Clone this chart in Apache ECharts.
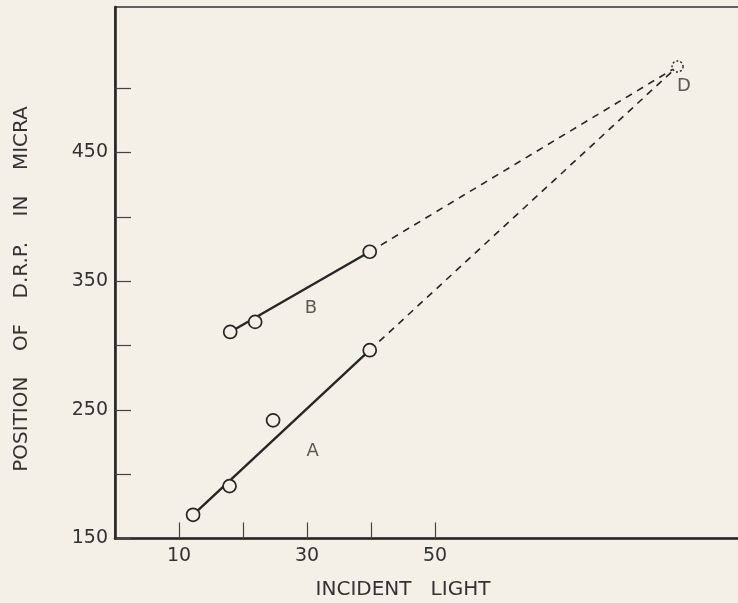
<!DOCTYPE html>
<html><head><meta charset="utf-8">
<script src="https://cdn.jsdelivr.net/npm/echarts@6/dist/echarts.min.js"></script>
<style>html,body{margin:0;padding:0;background:#f4efe7}#c{width:738px;height:603px}</style>
</head><body><div id="c"></div>
<script>
// ---- data ----
const xTicks = [10, 20, 30, 40, 50];
const xLabels = [10, 30, 50];
const yTicks = [150, 200, 250, 300, 350, 400, 450, 500];
const yLabels = [150, 250, 350, 450];
const xA = [12.2, 17.9, 24.7, 39.8];
const yA = [168.4, 190.7, 241.8, 296.3];
const xB = [18.0, 21.9, 39.8];
const yB = [310.5, 318.3, 372.8];
const fitAx = [12.2, 39.8];
const fitAy = [168.4, 296.3];
const fitBx = [18.0, 39.8];
const fitBy = [310.5, 372.8];
const pointD = [87.9, 516.8];
const curveNames = ['A', 'B', 'D'];
const curveLabelX = [30.9, 30.6, 88.9];
const curveLabelY = [217.7, 329.0, 501.0];
const xTitle = 'INCIDENT   LIGHT';
const yTitle = 'POSITION    OF    D.R.P.    IN    MICRA';

const ink = '#262626';
const bg = '#f4efe7';
const font = '"DejaVu Sans", sans-serif';
const zip = (xs, ys) => xs.map((x, i) => [x, ys[i]]);

const chart = echarts.init(document.getElementById('c'));
chart.setOption({
  backgroundColor: bg,
  animation: false,
  grid: { left: 115, top: 7, width: 640, height: 531.5, outerBoundsMode: 'none', containLabel: false, show: true, borderColor: '#333', borderWidth: 1.5, backgroundColor: 'transparent' },
  xAxis: {
    type: 'value', min: 0, max: 100,
    axisLine: { lineStyle: { color: ink, width: 2.6 } },
    axisTick: { show: true, inside: true, length: 16, customValues: xTicks, lineStyle: { color: '#444', width: 1.2 } },
    axisLabel: { customValues: xLabels, color: '#333', fontSize: 19, fontFamily: font, margin: 8 },
    splitLine: { show: false }
  },
  yAxis: {
    type: 'value', min: 150, max: 563,
    axisLine: { lineStyle: { color: ink, width: 2.6 } },
    axisTick: { show: true, inside: true, length: 16, customValues: yTicks, lineStyle: { color: '#444', width: 1.2 } },
    axisLabel: { customValues: yLabels, color: '#333', fontSize: 19, fontFamily: font, margin: 7 },
    splitLine: { show: false }
  },
  graphic: [
    { type: 'text', x: 403, y: 590, style: { text: xTitle, fill: '#333', font: '20px ' + font, align: 'center', verticalAlign: 'middle', textAlign: 'center', textVerticalAlign: 'middle' } },
    { type: 'text', x: 22, y: 289, rotation: Math.PI / 2, style: { text: yTitle, fill: '#333', font: '20px ' + font, align: 'center', verticalAlign: 'middle', textAlign: 'center', textVerticalAlign: 'middle' } }
  ],
  series: [
    { type: 'line', data: zip(fitAx, fitAy), symbol: 'none', lineStyle: { color: ink, width: 2.4 }, z: 2 },
    { type: 'line', data: zip(fitBx, fitBy), symbol: 'none', lineStyle: { color: ink, width: 2.4 }, z: 2 },
    { type: 'line', data: [[fitAx[1], fitAy[1]], pointD], symbol: 'none', lineStyle: { color: ink, width: 1.6, type: [7, 6] }, z: 2 },
    { type: 'line', data: [[fitBx[1], fitBy[1]], pointD], symbol: 'none', lineStyle: { color: ink, width: 1.6, type: [7, 6] }, z: 2 },
    { type: 'scatter', data: zip(xA, yA), symbol: 'circle', symbolSize: 13, itemStyle: { color: bg, borderColor: ink, borderWidth: 1.7, opacity: 1 }, z: 5 },
    { type: 'scatter', data: zip(xB, yB), symbol: 'circle', symbolSize: 13, itemStyle: { color: bg, borderColor: ink, borderWidth: 1.7, opacity: 1 }, z: 5 },
    { type: 'scatter', data: [pointD], symbol: 'circle', symbolSize: 11, itemStyle: { color: bg, borderColor: ink, borderWidth: 1.4, borderType: [2, 2], opacity: 1 }, z: 5 },
    { type: 'scatter', data: curveNames.map((n, i) => ({ value: [curveLabelX[i], curveLabelY[i]], name: n })), symbolSize: 0,
      label: { show: true, position: 'inside', formatter: p => p.name, color: '#333', fontSize: 18, fontFamily: font }, z: 6 }
  ]
});
</script></body></html>
